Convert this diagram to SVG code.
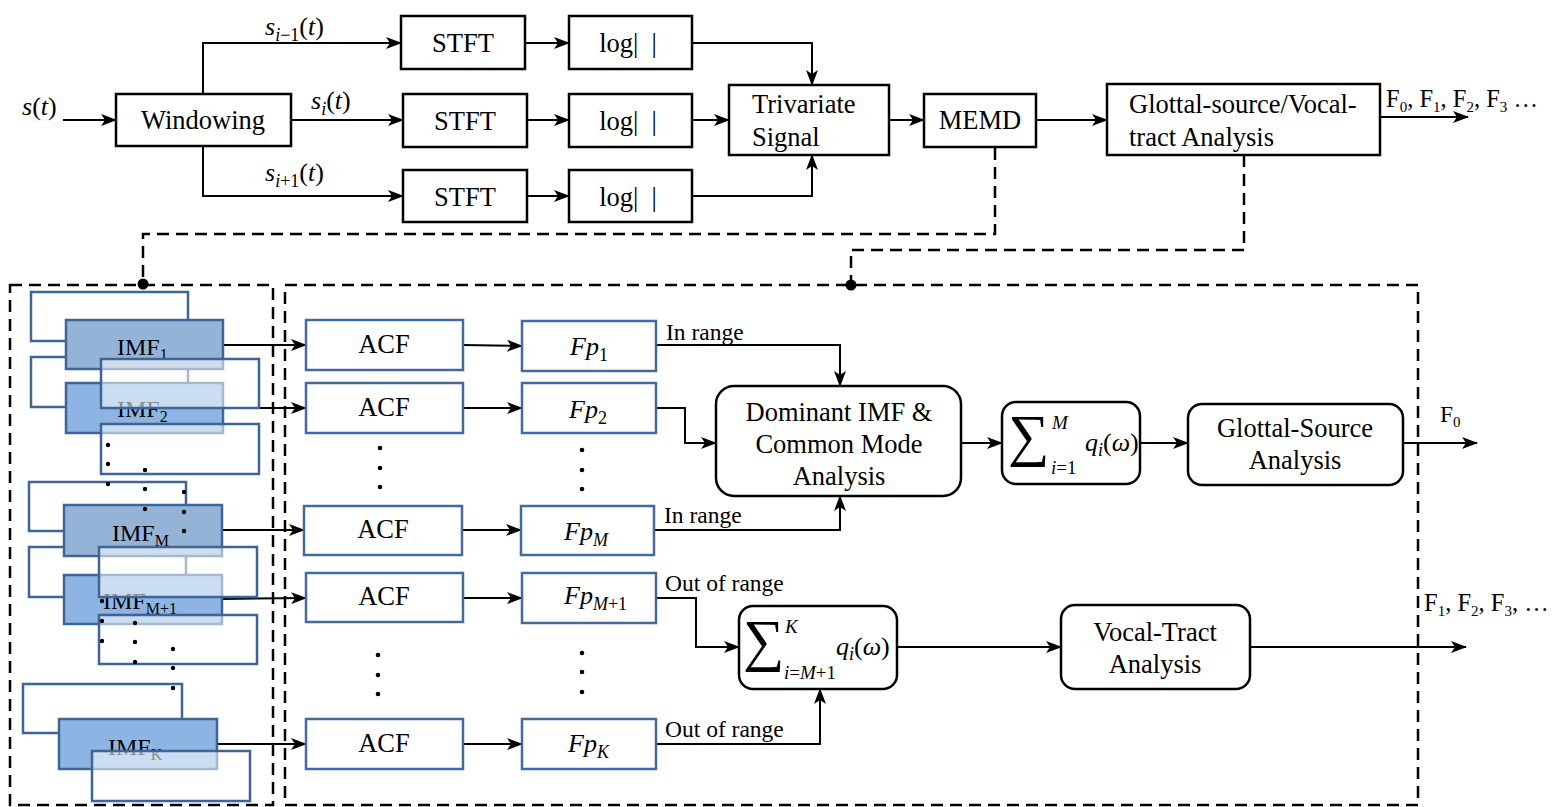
<svg xmlns="http://www.w3.org/2000/svg" width="1566" height="807" viewBox="0 0 1566 807">
<defs>
<marker id="arr" viewBox="0 0 16 12" refX="15" refY="6" markerWidth="16" markerHeight="12" markerUnits="userSpaceOnUse" orient="auto">
<path d="M0,0 L16,6 L0,12 L4,6 z" fill="#000"/>
</marker>
<style>
.bx{fill:#fff;stroke:#000;stroke-width:2.5}
.rb{fill:#fff;stroke:#000;stroke-width:2.5}
.ab{fill:#fff;stroke:#436A9C;stroke-width:2.5}
.back{fill:#fff;stroke:#3F6596;stroke-width:2.5}
.imfa{fill:#95B3D7;stroke:#3F6596;stroke-width:2.5}
.imfb{fill:#8DB4E2;stroke:#3F6596;stroke-width:2.5}
.ov{fill:#fff;fill-opacity:0.55;stroke:#3F6596;stroke-width:2.5}
.ln{fill:none;stroke:#000;stroke-width:2}
.dash{fill:none;stroke:#000;stroke-width:2.5;stroke-dasharray:12 7}
.t{font-family:"Liberation Serif","DejaVu Serif",serif;font-size:26.5px;fill:#000}
.imf{font-family:"Liberation Serif","DejaVu Serif",serif;font-size:24px;fill:#000}
.tc{text-anchor:middle}
.s{font-family:"Liberation Serif","DejaVu Serif",serif;font-size:23.5px;fill:#000}
.fl{font-family:"Liberation Serif","DejaVu Serif",serif;font-size:24.5px;fill:#000}
.m{font-family:"Liberation Serif","DejaVu Serif",serif;font-size:26px;font-style:italic;fill:#000}
.lim{font-family:"Liberation Serif","DejaVu Serif",serif;font-size:19px;font-style:italic;fill:#000}
.sig{font-family:"Liberation Serif","DejaVu Serif",serif;font-size:58px;fill:#000}
.dot{fill:#000}
</style>
</defs>

<g id="connectors">
<line class="ln" x1="63" y1="120" x2="116" y2="120" marker-end="url(#arr)"/>
<polyline class="ln" points="203,94 203,43 401,43" marker-end="url(#arr)"/>
<line class="ln" x1="291" y1="120" x2="403" y2="120" marker-end="url(#arr)"/>
<polyline class="ln" points="203,146 203,196 403,196" marker-end="url(#arr)"/>
<line class="ln" x1="525" y1="43" x2="569" y2="43" marker-end="url(#arr)"/>
<line class="ln" x1="527" y1="120" x2="569" y2="120" marker-end="url(#arr)"/>
<line class="ln" x1="527" y1="196" x2="569" y2="196" marker-end="url(#arr)"/>
<polyline class="ln" points="692,43 812,43 812,85" marker-end="url(#arr)"/>
<line class="ln" x1="692" y1="120" x2="729" y2="120" marker-end="url(#arr)"/>
<polyline class="ln" points="692,196 812,196 812,155" marker-end="url(#arr)"/>
<line class="ln" x1="889" y1="120" x2="924" y2="120" marker-end="url(#arr)"/>
<line class="ln" x1="1036" y1="120" x2="1107" y2="120" marker-end="url(#arr)"/>
<line class="ln" x1="1380" y1="117" x2="1468" y2="117" marker-end="url(#arr)"/>

<polyline class="dash" points="995,148 995,234 143,234 143,284"/>
<polyline class="dash" points="1244,155 1244,250 851,250 851,284"/>
<circle class="dot" cx="143" cy="284" r="5.5"/>
<circle class="dot" cx="851" cy="285" r="5.5"/>

<line class="ln" x1="223" y1="345" x2="306" y2="345" marker-end="url(#arr)"/>
<line class="ln" x1="223" y1="408" x2="306" y2="408" marker-end="url(#arr)"/>
<line class="ln" x1="222" y1="530" x2="304" y2="530" marker-end="url(#arr)"/>
<line class="ln" x1="222" y1="599" x2="306" y2="598" marker-end="url(#arr)"/>
<line class="ln" x1="217" y1="744" x2="306" y2="744" marker-end="url(#arr)"/>

<line class="ln" x1="463" y1="345" x2="522" y2="346" marker-end="url(#arr)"/>
<line class="ln" x1="463" y1="408" x2="522" y2="408" marker-end="url(#arr)"/>
<line class="ln" x1="462" y1="530" x2="521" y2="530" marker-end="url(#arr)"/>
<line class="ln" x1="463" y1="598" x2="522" y2="598" marker-end="url(#arr)"/>
<line class="ln" x1="463" y1="744" x2="522" y2="744" marker-end="url(#arr)"/>

<polyline class="ln" points="656,345 840,345 840,386" marker-end="url(#arr)"/>
<polyline class="ln" points="656,408 685,408 685,443 716,443" marker-end="url(#arr)"/>
<polyline class="ln" points="654,530 840,530 840,496" marker-end="url(#arr)"/>
<line class="ln" x1="961" y1="443" x2="1002" y2="443" marker-end="url(#arr)"/>
<line class="ln" x1="1140" y1="443" x2="1188" y2="443" marker-end="url(#arr)"/>
<line class="ln" x1="1403" y1="443" x2="1477" y2="443" marker-end="url(#arr)"/>

<polyline class="ln" points="656,598 696,598 696,647 739,647" marker-end="url(#arr)"/>
<polyline class="ln" points="656,744 820,744 820,689" marker-end="url(#arr)"/>
<line class="ln" x1="897" y1="647" x2="1061" y2="647" marker-end="url(#arr)"/>
<line class="ln" x1="1250" y1="647" x2="1466" y2="647" marker-end="url(#arr)"/>

<rect class="dash" x="10" y="285" width="263" height="520"/>
<rect class="dash" x="285" y="285" width="1133" height="520"/>
</g>

<text class="m" x="22" y="115">s<tspan font-style="normal">(</tspan>t<tspan font-style="normal">)</tspan></text>
<text class="m" x="265" y="35">s<tspan font-size="18" dy="6">i<tspan font-style="normal">−1</tspan></tspan><tspan dy="-6" font-style="normal">(</tspan>t<tspan font-style="normal">)</tspan></text>
<text class="m" x="311" y="109">s<tspan font-size="18" dy="6">i</tspan><tspan dy="-6" font-style="normal">(</tspan>t<tspan font-style="normal">)</tspan></text>
<text class="m" x="265" y="181">s<tspan font-size="18" dy="6">i<tspan font-style="normal">+1</tspan></tspan><tspan dy="-6" font-style="normal">(</tspan>t<tspan font-style="normal">)</tspan></text>

<g id="windowing"><rect class="bx" x="116" y="94" width="175" height="52"/><text class="t tc" x="203" y="129">Windowing</text></g>
<g id="stft1"><rect class="bx" x="401" y="16" width="124" height="53"/><text class="t tc" x="463" y="52">STFT</text></g>
<g id="stft2"><rect class="bx" x="403" y="94" width="124" height="53"/><text class="t tc" x="465" y="130">STFT</text></g>
<g id="stft3"><rect class="bx" x="403" y="170" width="124" height="52"/><text class="t tc" x="465" y="206">STFT</text></g>
<g id="log1"><rect class="bx" x="569" y="16" width="123" height="53"/><text class="t tc" x="628" y="52" xml:space="preserve">log|  |</text></g>
<g id="log2"><rect class="bx" x="569" y="94" width="123" height="53"/><text class="t tc" x="628" y="130" xml:space="preserve">log|  |</text></g>
<g id="log3"><rect class="bx" x="569" y="170" width="123" height="52"/><text class="t tc" x="628" y="206" xml:space="preserve">log|  |</text></g>
<g id="trivariate"><rect class="bx" x="729" y="85" width="160" height="70"/><text class="t" x="752" y="113">Trivariate</text><text class="t" x="752" y="146">Signal</text></g>
<g id="memd"><rect class="bx" x="924" y="94" width="112" height="53"/><text class="t tc" x="980" y="129">MEMD</text></g>
<g id="glottal-vocal"><rect class="bx" x="1107" y="84" width="273" height="71"/><text class="t" x="1129" y="113">Glottal-source/Vocal-</text><text class="t" x="1129" y="146">tract Analysis</text></g>
<text class="fl" x="1386" y="107">F<tspan font-size="15" dy="5">0</tspan><tspan dy="-5">, F</tspan><tspan font-size="15" dy="5">1</tspan><tspan dy="-5">, F</tspan><tspan font-size="15" dy="5">2</tspan><tspan dy="-5">, F</tspan><tspan font-size="15" dy="5">3</tspan><tspan dy="-5"> …</tspan></text>

<g id="imf-stack">
<rect class="back" x="31" y="292" width="157" height="49"/>
<rect class="back" x="31" y="357" width="157" height="50"/>
<rect class="back" x="29" y="482" width="157" height="49"/>
<rect class="back" x="29" y="547" width="157" height="50"/>
<rect class="back" x="23" y="684" width="159" height="49"/>
<g id="imf1"><rect class="imfa" x="66" y="320" width="157" height="49"/><text class="imf" x="117" y="355">IMF<tspan font-size="16" dy="5">1</tspan></text></g>
<g id="imf2"><rect class="imfb" x="66" y="383" width="157" height="50"/><text class="imf" x="117" y="417">IMF<tspan font-size="16" dy="5">2</tspan></text></g>
<g id="imfM"><rect class="imfa" x="64" y="505" width="158" height="51"/><text class="imf" x="112" y="541">IMF<tspan font-size="16" dy="5">M</tspan></text></g>
<g id="imfM1"><rect class="imfb" x="64" y="575" width="158" height="49"/><text class="imf" x="103" y="609">IMF<tspan font-size="16" dy="5">M+1</tspan></text></g>
<g id="imfK"><rect class="imfb" x="59" y="719" width="158" height="50"/><text class="imf" x="108" y="755">IMF<tspan font-size="16" dy="5">K</tspan></text></g>
<rect class="ov" x="101" y="359" width="158" height="49"/>
<rect class="ov" x="101" y="424" width="158" height="50"/>
<rect class="ov" x="99" y="547" width="158" height="50"/>
<rect class="ov" x="99" y="615" width="158" height="49"/>
<rect class="ov" x="92" y="751" width="158" height="50"/>
<g class="dot">
<circle cx="108" cy="445" r="2.2"/><circle cx="108" cy="464" r="2.2"/><circle cx="108" cy="484" r="2.2"/>
<circle cx="145" cy="470" r="2.2"/><circle cx="145" cy="489" r="2.2"/><circle cx="145" cy="509" r="2.2"/>
<circle cx="184" cy="492" r="2.2"/><circle cx="184" cy="512" r="2.2"/><circle cx="184" cy="531" r="2.2"/>
<circle cx="102" cy="601" r="2.2"/><circle cx="102" cy="621" r="2.2"/><circle cx="102" cy="641" r="2.2"/>
<circle cx="135" cy="623" r="2.2"/><circle cx="135" cy="642" r="2.2"/><circle cx="135" cy="662" r="2.2"/>
<circle cx="173" cy="649" r="2.2"/><circle cx="173" cy="668" r="2.2"/><circle cx="173" cy="688" r="2.2"/>
</g>
</g>

<g id="acf1"><rect class="ab" x="306" y="320" width="157" height="50"/><text class="t tc" x="384" y="353">ACF</text></g>
<g id="acf2"><rect class="ab" x="306" y="383" width="157" height="50"/><text class="t tc" x="384" y="416">ACF</text></g>
<g id="acfM"><rect class="ab" x="304" y="506" width="158" height="49"/><text class="t tc" x="383" y="538">ACF</text></g>
<g id="acfM1"><rect class="ab" x="306" y="573" width="157" height="49"/><text class="t tc" x="384" y="605">ACF</text></g>
<g id="acfK"><rect class="ab" x="306" y="719" width="157" height="50"/><text class="t tc" x="384" y="752">ACF</text></g>

<g id="fp1"><rect class="ab" x="522" y="321" width="134" height="50"/><text class="m" x="570" y="355">Fp<tspan font-size="18" font-style="normal" dy="6">1</tspan></text></g>
<g id="fp2"><rect class="ab" x="522" y="383" width="134" height="50"/><text class="m" x="569" y="418">Fp<tspan font-size="18" font-style="normal" dy="6">2</tspan></text></g>
<g id="fpM"><rect class="ab" x="521" y="506" width="133" height="49"/><text class="m" x="564" y="540">Fp<tspan font-size="18" dy="6">M</tspan></text></g>
<g id="fpM1"><rect class="ab" x="522" y="573" width="134" height="50"/><text class="m" x="564" y="604">Fp<tspan font-size="18" dy="6">M<tspan font-style="normal">+1</tspan></tspan></text></g>
<g id="fpK"><rect class="ab" x="522" y="719" width="134" height="50"/><text class="m" x="568" y="752">Fp<tspan font-size="18" dy="6">K</tspan></text></g>

<g class="dot">
<circle cx="380" cy="448" r="2.3"/><circle cx="380" cy="468" r="2.3"/><circle cx="380" cy="487" r="2.3"/>
<circle cx="582" cy="450" r="2.3"/><circle cx="582" cy="470" r="2.3"/><circle cx="582" cy="489" r="2.3"/>
<circle cx="378" cy="655" r="2.3"/><circle cx="378" cy="675" r="2.3"/><circle cx="378" cy="694" r="2.3"/>
<circle cx="582" cy="653" r="2.3"/><circle cx="582" cy="672" r="2.3"/><circle cx="582" cy="692" r="2.3"/>
</g>

<text class="s" x="666" y="340">In range</text>
<text class="s" x="664" y="523">In range</text>
<text class="s" x="665" y="591">Out of range</text>
<text class="s" x="665" y="737">Out of range</text>

<g id="dominant"><rect class="rb" x="716" y="386" width="245" height="110" rx="18"/><text class="t tc" x="839" y="421">Dominant IMF &amp;</text><text class="t tc" x="839" y="453">Common Mode</text><text class="t tc" x="839" y="485">Analysis</text></g>
<g id="sum1"><rect class="rb" x="1002" y="402" width="138" height="82" rx="14"/>
<text class="sig" x="1008" y="455">∑</text>
<text class="lim" x="1052" y="429">M</text>
<text class="lim" x="1051" y="474">i<tspan font-style="normal">=1</tspan></text>
<text x="1085" y="451" class="m">q<tspan font-size="18" dy="5">i</tspan><tspan dy="-5" font-style="normal">(</tspan>ω<tspan font-style="normal">)</tspan></text>
</g>
<g id="glottal-source"><rect class="rb" x="1188" y="404" width="215" height="81" rx="14"/><text class="t tc" x="1295" y="437">Glottal-Source</text><text class="t tc" x="1295" y="469">Analysis</text></g>
<text class="s" x="1440" y="422">F<tspan font-size="15" dy="5">0</tspan></text>

<g id="sum2"><rect class="rb" x="739" y="606" width="158" height="83" rx="14"/>
<text class="sig" x="743" y="660">∑</text>
<text class="lim" x="785" y="633">K</text>
<text class="lim" x="784" y="679">i<tspan font-style="normal">=</tspan>M<tspan font-style="normal">+1</tspan></text>
<text x="836" y="655" class="m">q<tspan font-size="18" dy="5">i</tspan><tspan dy="-5" font-style="normal">(</tspan>ω<tspan font-style="normal">)</tspan></text>
</g>
<g id="vocal-tract"><rect class="rb" x="1061" y="605" width="189" height="84" rx="14"/><text class="t tc" x="1155" y="641">Vocal-Tract</text><text class="t tc" x="1155" y="673">Analysis</text></g>
<text class="fl" x="1424" y="611">F<tspan font-size="15" dy="5">1</tspan><tspan dy="-5">, F</tspan><tspan font-size="15" dy="5">2</tspan><tspan dy="-5">, F</tspan><tspan font-size="15" dy="5">3</tspan><tspan dy="-5">, …</tspan></text>
</svg>
